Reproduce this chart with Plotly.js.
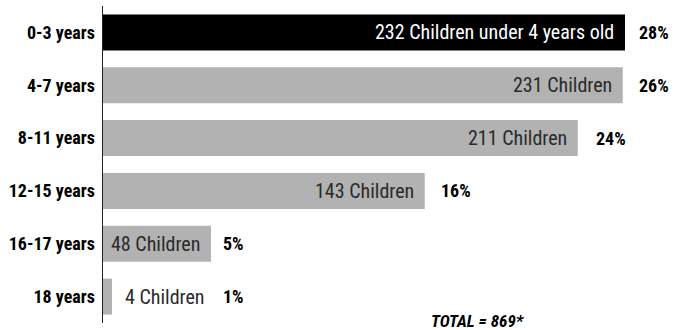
<!DOCTYPE html>
<html>
<head>
<meta charset="utf-8">
<script src="https://cdn.plot.ly/plotly-3.0.1.min.js"></script>
<style>html,body{margin:0;padding:0;background:#fff;}</style>
</head>
<body>
<div id="chart" style="width:675px;height:330px;"></div>
<script>
const categories = ['0-3 years','4-7 years','8-11 years','12-15 years','16-17 years','18 years'];
const counts = [232, 231, 211, 143, 48, 4];
const percents = [28, 26, 24, 16, 5, 1];
const barLabels = ['232 Children under 4 years old','231 Children','211 Children','143 Children','48 Children','4 Children'];
const totalLabel = 'TOTAL = 869*';

const COND = '"Roboto Condensed", "Open Sans Condensed", "Liberation Sans", sans-serif';

const barColors = categories.map((c, i) => i === 0 ? '#000000' : '#b2b2b2');
// pixel gaps between the end of each bar and its percentage label
const pctGap = [12, 14, 16, 14, 10, 109];

const trace = {
  type: 'bar',
  orientation: 'h',
  y: categories,
  x: counts,
  marker: {color: barColors, line: {width: 0}},
  hoverinfo: 'none',
  showlegend: false
};

const annotations = [];
categories.forEach((c, i) => {
  const outside = counts[i] < 20;
  annotations.push({
    x: counts[i], y: c, xref: 'x', yref: 'y',
    text: barLabels[i], showarrow: false,
    xanchor: outside ? 'left' : 'right', yanchor: 'middle',
    xshift: outside ? 11 : -9,
    font: {family: COND, size: 20, color: i === 0 ? '#ffffff' : '#2a2a2a'}
  });
  annotations.push({
    x: counts[i], y: c, xref: 'x', yref: 'y',
    text: percents[i] + '%', showarrow: false,
    xanchor: 'left', yanchor: 'middle',
    xshift: pctGap[i],
    font: {family: COND, size: 18, color: '#000000', weight: 'bold'}
  });
});

const W = 675, H = 330, ML = 103, MR = 0, MT = 6, MB = 7;
annotations.push({
  x: (477 - ML) / (W - ML - MR), y: (H - MB - 321) / (H - MT - MB),
  xref: 'paper', yref: 'paper',
  text: '<b><i>' + totalLabel + '</i></b>', showarrow: false,
  xanchor: 'center', yanchor: 'middle', borderpad: 0,
  font: {family: COND, size: 17, color: '#000000'}
});

const layout = {
  width: W, height: H,
  margin: {l: ML, r: MR, t: MT, b: MB, pad: 0},
  paper_bgcolor: '#ffffff',
  plot_bgcolor: '#ffffff',
  bargap: 0.32,
  xaxis: {
    range: [0, (W - ML - MR) / 2.25],
    showgrid: false, zeroline: false, showline: false,
    showticklabels: false, ticks: ''
  },
  yaxis: {
    type: 'category',
    autorange: 'reversed',
    showgrid: false, zeroline: false,
    showline: true, linecolor: '#222222', linewidth: 1.5,
    ticks: '', ticklabelstandoff: 3,
    tickfont: {family: COND, size: 18, color: '#000000', weight: 'bold'}
  },
  annotations: annotations
};

Plotly.newPlot('chart', [trace], layout, {displayModeBar: false, staticPlot: true});
</script>
</body>
</html>
